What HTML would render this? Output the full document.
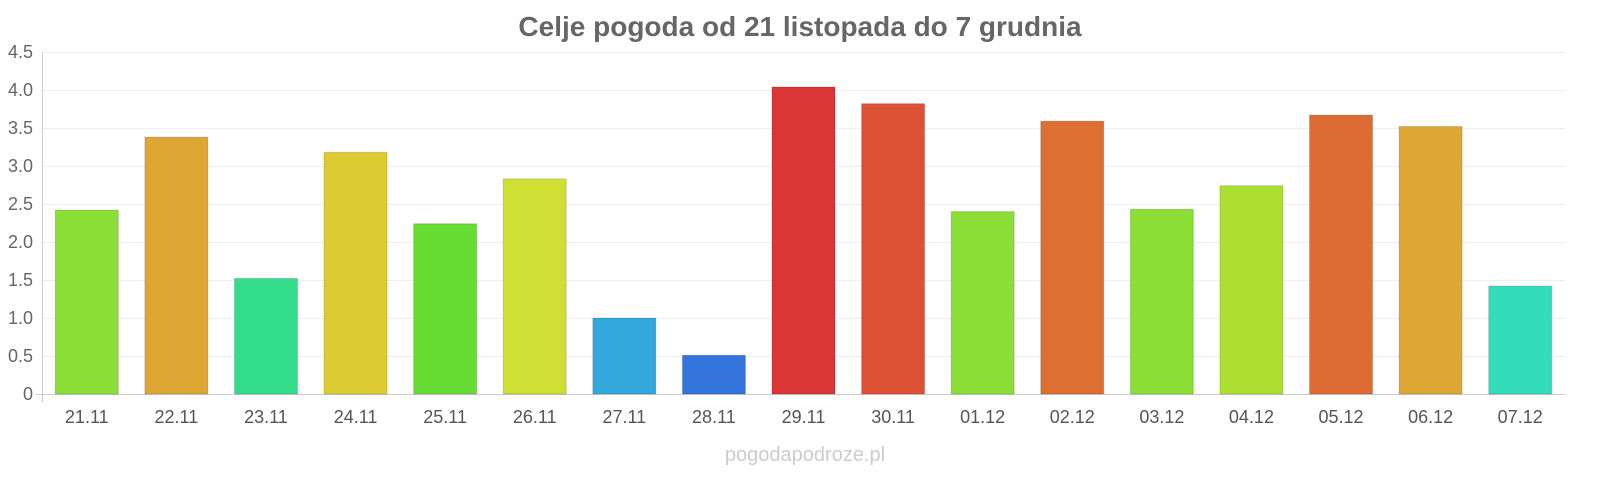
<!DOCTYPE html>
<html><head><meta charset="utf-8"><style>
body{margin:0;background:#fff;width:1600px;height:480px;overflow:hidden;font-family:"Liberation Sans",sans-serif}
</style></head><body>
<svg width="1600" height="480" xmlns="http://www.w3.org/2000/svg" font-family="Liberation Sans, sans-serif">
<text x="800" y="36" text-anchor="middle" font-size="28" font-weight="bold" fill="#666">Celje pogoda od 21 listopada do 7 grudnia</text>
<g stroke="#eee" stroke-width="1">
<line x1="42" x2="1565" y1="52.5" y2="52.5"/><line x1="42" x2="1565" y1="90.5" y2="90.5"/>
<line x1="42" x2="1565" y1="128.5" y2="128.5"/><line x1="42" x2="1565" y1="166.5" y2="166.5"/>
<line x1="42" x2="1565" y1="204.5" y2="204.5"/><line x1="42" x2="1565" y1="242.5" y2="242.5"/>
<line x1="42" x2="1565" y1="280.5" y2="280.5"/><line x1="42" x2="1565" y1="318.5" y2="318.5"/>
<line x1="42" x2="1565" y1="356.5" y2="356.5"/>
</g>
<g font-size="18" fill="#666" text-anchor="end">
<text x="33" y="58">4.5</text><text x="33" y="96">4.0</text><text x="33" y="134">3.5</text>
<text x="33" y="172">3.0</text><text x="33" y="210">2.5</text><text x="33" y="248">2.0</text>
<text x="33" y="286">1.5</text><text x="33" y="324">1.0</text><text x="33" y="362">0.5</text>
<text x="33" y="400">0</text>
</g>
<line x1="42.5" x2="42.5" y1="52" y2="402" stroke="#ccc"/>
<line x1="36" x2="1565" y1="394.5" y2="394.5" stroke="#ccc"/>
<g id="bars"></g>
<g id="labels" font-size="18" fill="#555" text-anchor="middle"></g>
<text x="805" y="461" text-anchor="middle" font-size="20" fill="#ccc">pogodapodroze.pl</text>
</svg>
<script>
var v=[2.42,3.38,1.52,3.18,2.24,2.83,1.0,0.51,4.04,3.82,2.4,3.59,2.43,2.74,3.67,3.52,1.42];
var c=["#8ade35","#dea733","#33dc8a","#dccb33","#66dd35","#cfdf33","#33a8dc","#3373dc","#dc3535","#dd5135","#8ade35","#dd6f33","#8ade35","#addf33","#dd6b33","#dea733","#33dcba"];
var l=["21.11","22.11","23.11","24.11","25.11","26.11","27.11","28.11","29.11","30.11","01.12","02.12","03.12","04.12","05.12","06.12","07.12"];
var ns="http://www.w3.org/2000/svg",b=document.getElementById("bars"),t=document.getElementById("labels");
var sw=(1565-42)/17;
for(var i=0;i<17;i++){var cx=42+sw*(i+0.5),h=v[i]*76;
var r=document.createElementNS(ns,"rect");r.setAttribute("x",cx-31.5);r.setAttribute("width",63);r.setAttribute("y",394-h);r.setAttribute("height",h);r.setAttribute("fill",c[i]);r.setAttribute("stroke","rgba(0,0,0,0.15)");b.appendChild(r);
var tx=document.createElementNS(ns,"text");tx.setAttribute("x",cx);tx.setAttribute("y",423);tx.textContent=l[i];t.appendChild(tx);}
</script>
</body></html>
